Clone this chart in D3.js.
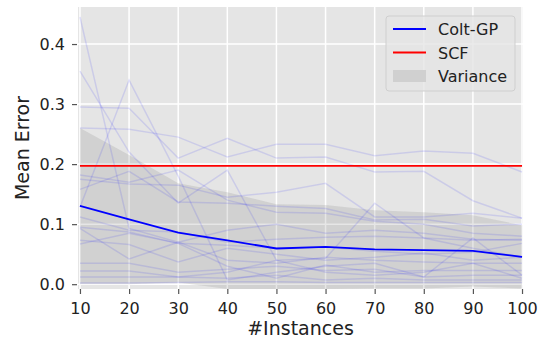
<!DOCTYPE html>
<html>
<head>
<meta charset="utf-8">
<script src="https://cdn.jsdelivr.net/npm/d3@7"></script>
<style>
	body { margin: 0; background: #fff; }
	text { font-family: 'DejaVu Sans', sans-serif; fill: #222; }
</style>
</head>
<body>
<script>

// x values (number of instances)
var instances = [10, 20, 30, 40, 50, 60, 70, 80, 90, 100];

// mean error of Colt-GP over all runs
var coltMean = [0.1305, 0.108, 0.086, 0.073, 0.0595, 0.062, 0.058, 0.0567, 0.0555, 0.0455];

// SCF baseline (flat)
var scfError = [0.197, 0.197, 0.197, 0.197, 0.197, 0.197, 0.197, 0.197, 0.197, 0.197];

// variance band
var varianceUpper = [0.26, 0.215, 0.168, 0.153, 0.133, 0.132, 0.123, 0.12, 0.115, 0.098];
var varianceLower = [0.0, 0.0, 0.003, -0.008, -0.014, -0.008, -0.007, -0.007, -0.004, -0.007];

// single runs (faint lines)
var run01 = [0.445, 0.093, 0.07, 0.09, 0.1, 0.085, 0.09, 0.085, 0.075, 0.073];
var run02 = [0.355, 0.22, 0.135, 0.19, 0.04, 0.043, 0.135, 0.077, 0.06, 0.045];
var run03 = [0.128, 0.34, 0.18, 0.007, 0.02, 0.03, 0.035, 0.012, 0.077, 0.015];
var run04 = [0.295, 0.293, 0.21, 0.243, 0.21, 0.212, 0.187, 0.188, 0.139, 0.11];
var run05 = [0.26, 0.258, 0.245, 0.212, 0.233, 0.233, 0.214, 0.222, 0.218, 0.187];
var run06 = [0.175, 0.167, 0.165, 0.145, 0.153, 0.168, 0.112, 0.112, 0.118, 0.11];
var run07 = [0.158, 0.188, 0.137, 0.135, 0.13, 0.126, 0.107, 0.108, 0.097, 0.1];
var run08 = [0.112, 0.09, 0.087, 0.07, 0.075, 0.078, 0.08, 0.077, 0.073, 0.075];
var run09 = [0.095, 0.087, 0.068, 0.065, 0.06, 0.062, 0.055, 0.05, 0.053, 0.068];
var run10 = [0.093, 0.042, 0.07, 0.04, 0.035, 0.045, 0.04, 0.037, 0.035, 0.035];
var run11 = [0.073, 0.066, 0.037, 0.06, 0.05, 0.04, 0.045, 0.052, 0.04, 0.045];
var run12 = [0.067, 0.085, 0.068, 0.03, 0.01, 0.032, 0.02, 0.023, 0.023, 0.023];
var run13 = [0.035, 0.035, 0.02, 0.025, 0.03, 0.023, 0.025, 0.012, 0.015, 0.015];
var run14 = [0.022, 0.022, 0.012, 0.01, 0.015, 0.007, 0.01, 0.007, 0.007, 0.007];
var run15 = [0.012, 0.012, 0.012, 0.02, 0.04, 0.02, 0.015, 0.02, 0.035, 0.01];
var run16 = [0.002, 0.002, 0.003, 0.004, 0.004, 0.003, 0.003, 0.003, 0.003, 0.003];
var run17 = [0.182, 0.17, 0.19, 0.14, 0.12, 0.118, 0.105, 0.1, 0.085, 0.08];
var runs = [run01, run02, run03, run04, run05, run06, run07, run08, run09, run10,
	run11, run12, run13, run14, run15, run16, run17];

// ticks
var xTicks = [10, 20, 30, 40, 50, 60, 70, 80, 90, 100];
var yTicks = [0.0, 0.1, 0.2, 0.3, 0.4];

// legend entries
var legendItems = ['Colt-GP', 'SCF', 'Variance'];


var WIDTH = 543, HEIGHT = 344;
var LEFT = 78, RIGHT = 523, TOP = 7, BOTTOM = 289;

var svg = d3.select('body')
	.append('svg')
	.attr('width', WIDTH)
	.attr('height', HEIGHT);

var x = d3.scaleLinear().domain([9.6, 100.2]).range([LEFT, RIGHT]);
var y = d3.scaleLinear().domain([-0.008, 0.4617]).range([BOTTOM, TOP]);

// clip everything to the axes box
svg.append('clipPath')
	.attr('id', 'plot-clip')
	.append('rect')
	.attr('x', LEFT).attr('y', TOP)
	.attr('width', RIGHT - LEFT).attr('height', BOTTOM - TOP);

// ------------------------ BACKGROUND + GRID ------------------------
svg.append('rect')
	.attr('x', LEFT).attr('y', TOP)
	.attr('width', RIGHT - LEFT).attr('height', BOTTOM - TOP)
	.attr('fill', '#e5e5e5');

svg.append('g')
	.selectAll('line')
	.data(xTicks)
	.enter()
	.append('line')
	.attr('x1', function(d) { return x(d); })
	.attr('x2', function(d) { return x(d); })
	.attr('y1', TOP).attr('y2', BOTTOM)
	.attr('stroke', '#fff')
	.attr('stroke-width', 1.5);

svg.append('g')
	.selectAll('line')
	.data(yTicks)
	.enter()
	.append('line')
	.attr('x1', LEFT).attr('x2', RIGHT)
	.attr('y1', function(d) { return y(d); })
	.attr('y2', function(d) { return y(d); })
	.attr('stroke', '#fff')
	.attr('stroke-width', 1.5);

var plot = svg.append('g').attr('clip-path', 'url(#plot-clip)');

// ------------------------ VARIANCE BAND ------------------------
var band = d3.area()
	.x(function(d, i) { return x(instances[i]); })
	.y0(function(d, i) { return y(varianceLower[i]); })
	.y1(function(d) { return y(d); });

plot.append('path')
	.datum(varianceUpper)
	.attr('d', band)
	.attr('fill', '#808080')
	.attr('fill-opacity', 0.2);

// ------------------------ RUNS, MEAN, SCF ------------------------
var line = d3.line()
	.x(function(d, i) { return x(instances[i]); })
	.y(function(d) { return y(d); });

plot.selectAll('.run')
	.data(runs)
	.enter()
	.append('path')
	.attr('class', 'run')
	.attr('d', line)
	.attr('fill', 'none')
	.attr('stroke', 'rgba(0,0,255,0.11)')
	.attr('stroke-width', 1.5);

plot.append('path')
	.datum(scfError)
	.attr('d', line)
	.attr('fill', 'none')
	.attr('stroke', '#ff0000')
	.attr('stroke-width', 1.8);

plot.append('path')
	.datum(coltMean)
	.attr('d', line)
	.attr('fill', 'none')
	.attr('stroke', '#0000ff')
	.attr('stroke-width', 1.8);

// ------------------------ AXES ------------------------
var xAxis = svg.append('g')
	.attr('transform', 'translate(0,' + BOTTOM + ')')
	.call(d3.axisBottom(x).tickValues(xTicks).tickSize(5).tickPadding(9).tickFormat(d3.format('d')));

var yAxis = svg.append('g')
	.attr('transform', 'translate(' + (LEFT - 1) + ',0)')
	.call(d3.axisLeft(y).tickValues(yTicks).tickSize(5).tickPadding(7).tickFormat(d3.format('.1f')));

[xAxis, yAxis].forEach(function(ax) {
	ax.select('.domain').remove();
	ax.selectAll('line').attr('stroke', '#555').attr('stroke-width', 1.2);
	ax.selectAll('text')
		.attr('font-family', 'DejaVu Sans')
		.style('font-size', '16px')
		.attr('fill', '#222');
});

svg.append('text')
	.attr('x', (LEFT + RIGHT) / 2)
	.attr('y', 335)
	.attr('text-anchor', 'middle')
	.style('font-size', '19px')
	.text('#Instances');

svg.append('text')
	.attr('transform', 'translate(29,' + ((TOP + BOTTOM) / 2) + ') rotate(-90)')
	.attr('text-anchor', 'middle')
	.style('font-size', '19px')
	.text('Mean Error');

// ------------------------ LEGEND ------------------------
var legend = svg.append('g').attr('transform', 'translate(386,16)');

legend.append('rect')
	.attr('width', 129).attr('height', 75)
	.attr('rx', 3)
	.attr('fill', '#e5e5e5')
	.attr('fill-opacity', 0.8)
	.attr('stroke', '#cfcfcf');

var rows = legend.selectAll('.row')
	.data(legendItems)
	.enter()
	.append('g')
	.attr('transform', function(d, i) { return 'translate(0,' + (13 + i * 23.5) + ')'; });

rows.each(function(d, i) {
	var g = d3.select(this);
	if (i < 2) {
		g.append('line')
			.attr('x1', 7).attr('x2', 40)
			.attr('stroke', i === 0 ? '#0000ff' : '#ff0000')
			.attr('stroke-width', 1.8);
	} else {
		g.append('rect')
			.attr('x', 7).attr('y', -6)
			.attr('width', 33).attr('height', 12)
			.attr('fill', '#d0d0d0');
	}
	g.append('text')
		.attr('x', 52).attr('y', 6)
		.style('font-size', '16px')
		.text(d);
});

</script>
</body>
</html>
